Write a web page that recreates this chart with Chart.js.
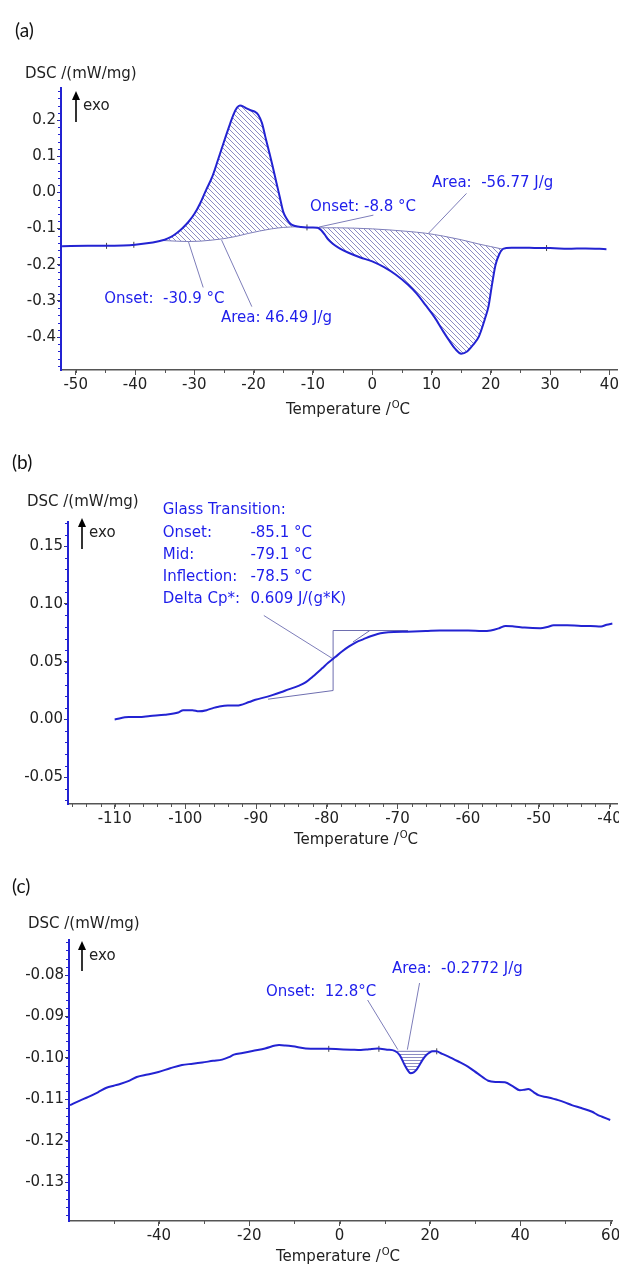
<!DOCTYPE html>
<html>
<head>
<meta charset="utf-8">
<script src="https://cdn.jsdelivr.net/npm/chart.js@4.4.1/dist/chart.umd.min.js"></script>
<style>
  html, body { margin: 0; padding: 0; background: #fff; width: 619px; height: 1268px; overflow: hidden; }
  canvas { position: absolute; left: 0; }
  .lbl { position: absolute; font-family: Lato, "Open Sans", sans-serif; font-size: 19px; color: #111; line-height: 23px; }
</style>
</head>
<body>
<canvas id="chartA" width="640" height="440" style="top:0px"></canvas>
<canvas id="chartB" width="640" height="422" style="top:440px"></canvas>
<canvas id="chartC" width="640" height="406" style="top:862px"></canvas>
<div class="lbl" style="left:15px;top:18px">(a)</div>
<div class="lbl" style="left:12px;top:450px">(b)</div>
<div class="lbl" style="left:12px;top:874px">(c)</div>
<script>
// ---------- (a) crystallisation / melting ----------
const tempA = [-52.3, -48, -45, -42, -40, -38, -36, -35, -34, -33, -32, -31, -30, -29, -28, -27, -26, -25, -24,
  -23.4, -22.8, -22.3, -21.7, -21.2, -20.5, -19.8, -19.2, -18.6, -18, -17.4, -16.8, -16.2, -15.6, -15, -14.4,
  -13.8, -13, -12, -11, -10, -9.2, -8.6, -8, -7.4, -6.6, -5.5, -4, -2, 0, 2, 4, 6, 7.5, 9, 10.5, 12, 13, 14,
  15, 16, 17, 18, 19, 19.6, 20.2, 20.8, 21.4, 22, 22.6, 23.5, 25, 28, 30, 33, 36, 39.5];
const dscA = [-0.149, -0.148, -0.148, -0.147, -0.145, -0.141, -0.135, -0.131, -0.124, -0.113, -0.099, -0.082,
  -0.060, -0.030, 0.007, 0.042, 0.090, 0.140, 0.188, 0.215, 0.234, 0.240, 0.237, 0.232, 0.227, 0.223, 0.214,
  0.192, 0.152, 0.113, 0.073, 0.030, -0.012, -0.054, -0.074, -0.087, -0.093, -0.096, -0.097, -0.097, -0.098,
  -0.105, -0.117, -0.131, -0.143, -0.155, -0.167, -0.180, -0.191, -0.207, -0.228, -0.255, -0.280, -0.312,
  -0.345, -0.385, -0.410, -0.433, -0.446, -0.440, -0.422, -0.398, -0.350, -0.316, -0.255, -0.200, -0.172,
  -0.157, -0.154, -0.153, -0.153, -0.154, -0.154, -0.156, -0.155, -0.157];
const baseA1T = [-35.5, -33, -31, -29, -27, -25, -23, -21, -19, -17, -15, -12.5];
const baseA1V = [-0.133, -0.135, -0.136, -0.135, -0.132, -0.128, -0.122, -0.114, -0.107, -0.101, -0.097, -0.095];
const baseA2T = [-9.5, -6, -3, 0, 3, 6, 9, 12, 15, 18, 20, 22];
const baseA2V = [-0.098, -0.098, -0.099, -0.101, -0.104, -0.108, -0.113, -0.121, -0.131, -0.143, -0.150, -0.157];
const markAT = [-44.8, -40.2, -11.0, 29.4];
const markAV = [-0.148, -0.145, -0.097, -0.154];
const leadA = [[-31.0, -0.136, -28.5, -0.263], [-25.4, -0.132, -20.3, -0.316],
  [-9.0, -0.096, 0.2, -0.063], [9.5, -0.113, 15.9, -0.003]];
const noteA = ['Onset:  -30.9 °C', 'Area: 46.49 J/g', 'Onset: -8.8 °C', 'Area:  -56.77 J/g'];
const xTicksA = [-50, -40, -30, -20, -10, 0, 10, 20, 30, 40];
const yTicksA = [-0.4, -0.3, -0.2, -0.1, 0.0, 0.1, 0.2];

// ---------- (b) glass transition ----------
const tempB = [-110, -108, -106.6, -105, -102.9, -101, -100.3, -99, -98.1, -97, -96, -95.3, -94, -92.7, -91,
  -90.1, -88.5, -87.7, -86.5, -85.4, -84, -83, -82, -80.7, -79.8, -78.8, -77.8, -76.9, -75.8, -74.8, -73.8,
  -72.8, -71.9, -70.5, -68.6, -66, -64, -62.5, -60, -58, -56.8, -55.6, -54.7, -53.5, -52, -49.8, -48.8,
  -47.9, -46, -44, -42.7, -41.2, -40.4, -39.6];
const dscB = [0.000, 0.002, 0.002, 0.003, 0.004, 0.006, 0.008, 0.008, 0.007, 0.008, 0.010, 0.011, 0.012,
  0.012, 0.015, 0.017, 0.0195, 0.021, 0.0235, 0.026, 0.029, 0.032, 0.037, 0.044, 0.049, 0.054, 0.059, 0.063,
  0.067, 0.0695, 0.072, 0.074, 0.075, 0.0757, 0.076, 0.0765, 0.077, 0.077, 0.077, 0.0765, 0.077, 0.079,
  0.081, 0.0805, 0.0795, 0.079, 0.080, 0.0815, 0.0815, 0.081, 0.081, 0.0805, 0.082, 0.083];
const stepB = [[-79.1, 0.025, -79.1, 0.077], [-79.1, 0.077, -68.5, 0.077], [-88.3, 0.0175, -79.1, 0.025],
  [-76.3, 0.067, -73.9, 0.077]];
const leadB = [[-88.9, 0.090, -79.0, 0.052]];
const gtTitle = 'Glass Transition:';
const gtNames = ['Onset:', 'Mid:', 'Inflection:', 'Delta Cp*:'];
const gtValues = ['-85.1 °C', '-79.1 °C', '-78.5 °C', '0.609 J/(g*K)'];
const xTicksB = [-110, -100, -90, -80, -70, -60, -50, -40];
const yTicksB = [-0.05, 0.00, 0.05, 0.10, 0.15];

// ---------- (c) small melting peak ----------
const tempC = [-59.7, -57.5, -55.6, -53.5, -51.6, -50, -48.6, -46.5, -44.9, -42.5, -40.1, -37.5, -34.9, -32.5,
  -30.4, -28, -26, -24.5, -23.4, -21.5, -19.3, -16.5, -13.4, -12, -10.4, -7.5, -5, -2.5, 0, 2.5, 4.7, 6.5, 8.4,
  10.5, 12.2, 13.3, 14.4, 15.1, 15.7, 16.4, 17.0, 17.7, 18.4, 19.2, 19.9, 20.6, 21.4, 22.7, 24.0, 26.2, 28.4,
  30.6, 32.9, 34.5, 36.6, 38.3, 39.9, 40.8, 41.8, 43, 44.0, 46, 48.4, 50, 51.4, 53.5, 55.9, 57, 58.1, 59.9];
const dscC = [-0.1114, -0.1103, -0.1094, -0.1083, -0.1072, -0.1067, -0.1063, -0.1055, -0.1046, -0.1040,
  -0.1034, -0.1025, -0.1017, -0.1014, -0.1011, -0.1007, -0.1004, -0.0998, -0.0992, -0.0988, -0.0983, -0.0977,
  -0.0969, -0.0970, -0.0972, -0.0977, -0.0978, -0.0978, -0.0979, -0.0980, -0.0981, -0.0979, -0.0977, -0.0980,
  -0.0983, -0.0993, -0.1017, -0.1030, -0.1037, -0.1035, -0.1029, -0.1017, -0.1004, -0.0993, -0.0987, -0.0984,
  -0.0984, -0.0990, -0.0996, -0.1008, -0.1021, -0.1038, -0.1055, -0.1058, -0.1059, -0.1068, -0.1078, -0.1077,
  -0.1075, -0.1083, -0.1090, -0.1095, -0.1102, -0.1108, -0.1114, -0.1121, -0.1130, -0.1137, -0.1142, -0.1150];
const baseCT = [12.6, 21.2];
const baseCV = [-0.0984, -0.0984];
const markCT = [-2.4, 8.7, 21.5];
const markCV = [-0.0978, -0.0978, -0.0984];
const leadC = [[6.2, -0.0860, 12.9, -0.0980], [17.7, -0.0819, 15.0, -0.0980]];
const noteC = ['Onset:  12.8°C', 'Area:  -0.2772 J/g'];
const xTicksC = [-40, -20, 0, 20, 40, 60];
const yTicksC = [-0.13, -0.12, -0.11, -0.10, -0.09, -0.08];

// ---------- styles ----------
const FONT = '"DejaVu Sans", "Liberation Sans", Arial, sans-serif';
const CURVE = 'rgb(35,35,210)';
const TXT_BLUE = 'rgb(30,30,235)';
const LEAD = 'rgb(125,125,185)';
const HATCH = 'rgb(140,140,195)';

function pts(xs, ys) { return xs.map((x, i) => ({ x, y: ys[i] })); }

function segment(curve, base) {
  const a = base[0], b = base[base.length - 1];
  return [a, ...curve.filter(p => p.x > a.x && p.x < b.x), b];
}

function hatch(kind) {
  const s = kind === 'h' ? 3 : 5;
  const c = document.createElement('canvas');
  c.width = s; c.height = s;
  const g = c.getContext('2d');
  g.strokeStyle = HATCH; g.lineWidth = 1;
  g.beginPath();
  if (kind === 'h') {
    g.moveTo(0, 0.5); g.lineTo(s, 0.5);
  } else {
    g.moveTo(0, 0); g.lineTo(s, s);
    g.moveTo(-1, s - 1); g.lineTo(1, s + 1);
    g.moveTo(s - 1, -1); g.lineTo(s + 1, 1);
  }
  g.stroke();
  return g.createPattern(c, 'repeat');
}

function line(data, color, width, extra) {
  return Object.assign({ data, borderColor: color, borderWidth: width, pointRadius: 0, fill: false, tension: 0 }, extra || {});
}

function leaders(list, color) {
  return list.map(l => line([{ x: l[0], y: l[1] }, { x: l[2], y: l[3] }], color || LEAD, 1));
}

function marks(xs, ys) {
  return {
    data: pts(xs, ys), showLine: false, pointStyle: 'line', pointRotation: 90, pointRadius: 3,
    borderColor: '#444', borderWidth: 1
  };
}

function decorPlugin(P) {
  return {
    id: 'decor',
    afterDraw(chart) {
      const ctx = chart.ctx, xs = chart.scales.x, ys = chart.scales.y, ca = chart.chartArea;
      ctx.save();
      // minor ticks
      ctx.lineWidth = 1;
      ctx.strokeStyle = '#555';
      for (let k = Math.ceil(xs.min / P.minorX); k * P.minorX <= xs.max; k++) {
        const px = Math.round(xs.getPixelForValue(k * P.minorX)) + 0.5;
        ctx.beginPath(); ctx.moveTo(px, ca.bottom); ctx.lineTo(px, ca.bottom + 3); ctx.stroke();
      }
      ctx.strokeStyle = CURVE;
      for (let k = Math.ceil(ys.min / P.minorY); k * P.minorY <= ys.max; k++) {
        const py = Math.round(ys.getPixelForValue(k * P.minorY)) + 0.5;
        ctx.beginPath(); ctx.moveTo(ca.left - 3, py); ctx.lineTo(ca.left, py); ctx.stroke();
      }
      // y title
      ctx.fillStyle = '#222';
      ctx.textBaseline = 'middle';
      ctx.textAlign = 'left';
      ctx.font = '15px ' + FONT;
      ctx.fillText('DSC /(mW/mg)', P.dsc[0], P.dsc[1]);
      // exo arrow
      const [ax, ay1, ay2] = P.exo;
      ctx.strokeStyle = '#000'; ctx.fillStyle = '#000'; ctx.lineWidth = 1.6;
      ctx.beginPath(); ctx.moveTo(ax, ay1 + 6); ctx.lineTo(ax, ay2); ctx.stroke();
      ctx.beginPath(); ctx.moveTo(ax, ay1); ctx.lineTo(ax - 4, ay1 + 9); ctx.lineTo(ax + 4, ay1 + 9); ctx.closePath(); ctx.fill();
      ctx.fillStyle = '#222';
      ctx.fillText('exo', ax + 7, ay1 + 15);
      // x title with raised degree sign
      const t1 = 'Temperature /', t3 = 'C';
      ctx.font = '15px ' + FONT;
      const w1 = ctx.measureText(t1).width, w3 = ctx.measureText(t3).width;
      ctx.font = '10px ' + FONT;
      const w2 = ctx.measureText('O').width + 1;
      const tx = P.xTitle[0] - (w1 + w2 + w3) / 2;
      ctx.font = '15px ' + FONT;
      ctx.fillText(t1, tx, P.xTitle[1]);
      ctx.font = '10px ' + FONT;
      ctx.fillText('O', tx + w1 + 1, P.xTitle[1] - 5);
      ctx.font = '15px ' + FONT;
      ctx.fillText(t3, tx + w1 + w2, P.xTitle[1]);
      // annotations
      ctx.fillStyle = TXT_BLUE;
      ctx.font = '15px ' + FONT;
      (P.notes || []).forEach(n => {
        ctx.fillText(n[0], xs.getPixelForValue(n[1]), ys.getPixelForValue(n[2]));
      });
      ctx.restore();
    }
  };
}

function makeChart(id, P) {
  const canvas = document.getElementById(id);
  const H = canvas.height;
  return new Chart(canvas, {
    type: 'line',
    data: { datasets: P.datasets },
    options: {
      responsive: false,
      animation: false,
      events: [],
      layout: { padding: { top: P.area.top, right: canvas.width - P.area.right, left: 0, bottom: 0 } },
      plugins: { legend: { display: false }, tooltip: { enabled: false } },
      scales: {
        x: {
          type: 'linear', min: P.xMin, max: P.xMax,
          afterBuildTicks: s => { s.ticks = P.xTicks.map(v => ({ value: v })); },
          afterFit: s => { s.height = H - P.area.bottom; },
          border: { display: true, color: '#555', width: 1.5 },
          grid: { drawOnChartArea: false, drawTicks: true, tickLength: 5, color: '#555' },
          ticks: {
            autoSkip: false, maxRotation: 0, padding: 1,
            color: '#222', font: { family: FONT, size: 15 },
            callback: v => String(v)
          }
        },
        y: {
          type: 'linear', min: P.yMin, max: P.yMax,
          afterBuildTicks: s => { s.ticks = P.yTicks.map(v => ({ value: v })); },
          afterFit: s => { s.width = P.area.left; },
          border: { display: true, color: CURVE, width: 2 },
          grid: { drawOnChartArea: false, drawTicks: true, tickLength: 4, color: '#444' },
          ticks: {
            padding: 1, color: '#222', autoSkip: false,
            font: { family: FONT, size: 15 },
            callback: v => (Math.abs(v) < 1e-9 ? 0 : v).toFixed(P.yDec)
          }
        }
      }
    },
    plugins: [decorPlugin(P)]
  });
}

// ---------- panel (a) ----------
const curveA = pts(tempA, dscA);
const base1 = pts(baseA1T, baseA1V);
const base2 = pts(baseA2T, baseA2V);
const smooth = { cubicInterpolationMode: 'monotone' };
makeChart('chartA', {
  area: { left: 61, top: 88, right: 617, bottom: 370 },
  xMin: -52.48, xMax: 41.28, xTicks: xTicksA, minorX: 5,
  yMin: -0.4912, yMax: 0.2885, yTicks: yTicksA, minorY: 0.02, yDec: 1,
  dsc: [25, 74], exo: [76, 91, 122], xTitle: [348, 410],
  notes: [[noteA[0], -45.2, -0.295], [noteA[1], -25.5, -0.347], [noteA[2], -10.5, -0.041], [noteA[3], 10.1, 0.026]],
  datasets: [
    line(curveA, CURVE, 2, smooth),
    line(segment(curveA, base1), 'rgba(0,0,0,0)', 0, Object.assign({ fill: { target: 2 }, backgroundColor: hatch('d') }, smooth)),
    line(base1, LEAD, 1, smooth),
    line(segment(curveA, base2), 'rgba(0,0,0,0)', 0, Object.assign({ fill: { target: 4 }, backgroundColor: hatch('d') }, smooth)),
    line(base2, LEAD, 1, smooth),
    ...leaders(leadA),
    marks(markAT, markAV)
  ]
});

// ---------- panel (b) ----------
const gtRows = [0.1617, 0.1422, 0.1235, 0.1040];
makeChart('chartB', {
  area: { left: 68, top: 82, right: 617, bottom: 364 },
  xMin: -116.6, xMax: -38.94, xTicks: xTicksB, minorX: 2,
  yMin: -0.0733, yMax: 0.171, yTicks: yTicksB, minorY: 0.01, yDec: 2,
  dsc: [27, 62], exo: [82, 78, 109], xTitle: [356, 400],
  notes: [[gtTitle, -103.2, 0.1812],
    ...gtNames.map((n, i) => [n, -103.2, gtRows[i]]),
    ...gtValues.map((v, i) => [v, -90.8, gtRows[i]])],
  datasets: [
    line(pts(tempB, dscB), CURVE, 2, smooth),
    ...leaders(stepB, 'rgb(110,110,175)'),
    ...leaders(leadB)
  ]
});

// ---------- panel (c) ----------
const curveC = pts(tempC, dscC);
const baseC = pts(baseCT, baseCV);
makeChart('chartC', {
  area: { left: 69, top: 78, right: 612, bottom: 359 },
  xMin: -59.9, xMax: 60.3, xTicks: xTicksC, minorX: 10,
  yMin: -0.1394, yMax: -0.0715, yTicks: yTicksC, minorY: 0.002, yDec: 2,
  dsc: [28, 62], exo: [82, 79, 109], xTitle: [338, 395],
  notes: [[noteC[0], -16.3, -0.0840], [noteC[1], 11.6, -0.0786]],
  datasets: [
    line(curveC, CURVE, 2, smooth),
    line(segment(curveC, baseC), 'rgba(0,0,0,0)', 0, Object.assign({ fill: { target: 2 }, backgroundColor: hatch('h') }, smooth)),
    line(baseC, LEAD, 1),
    ...leaders(leadC),
    marks(markCT, markCV)
  ]
});
</script>
</body>
</html>
